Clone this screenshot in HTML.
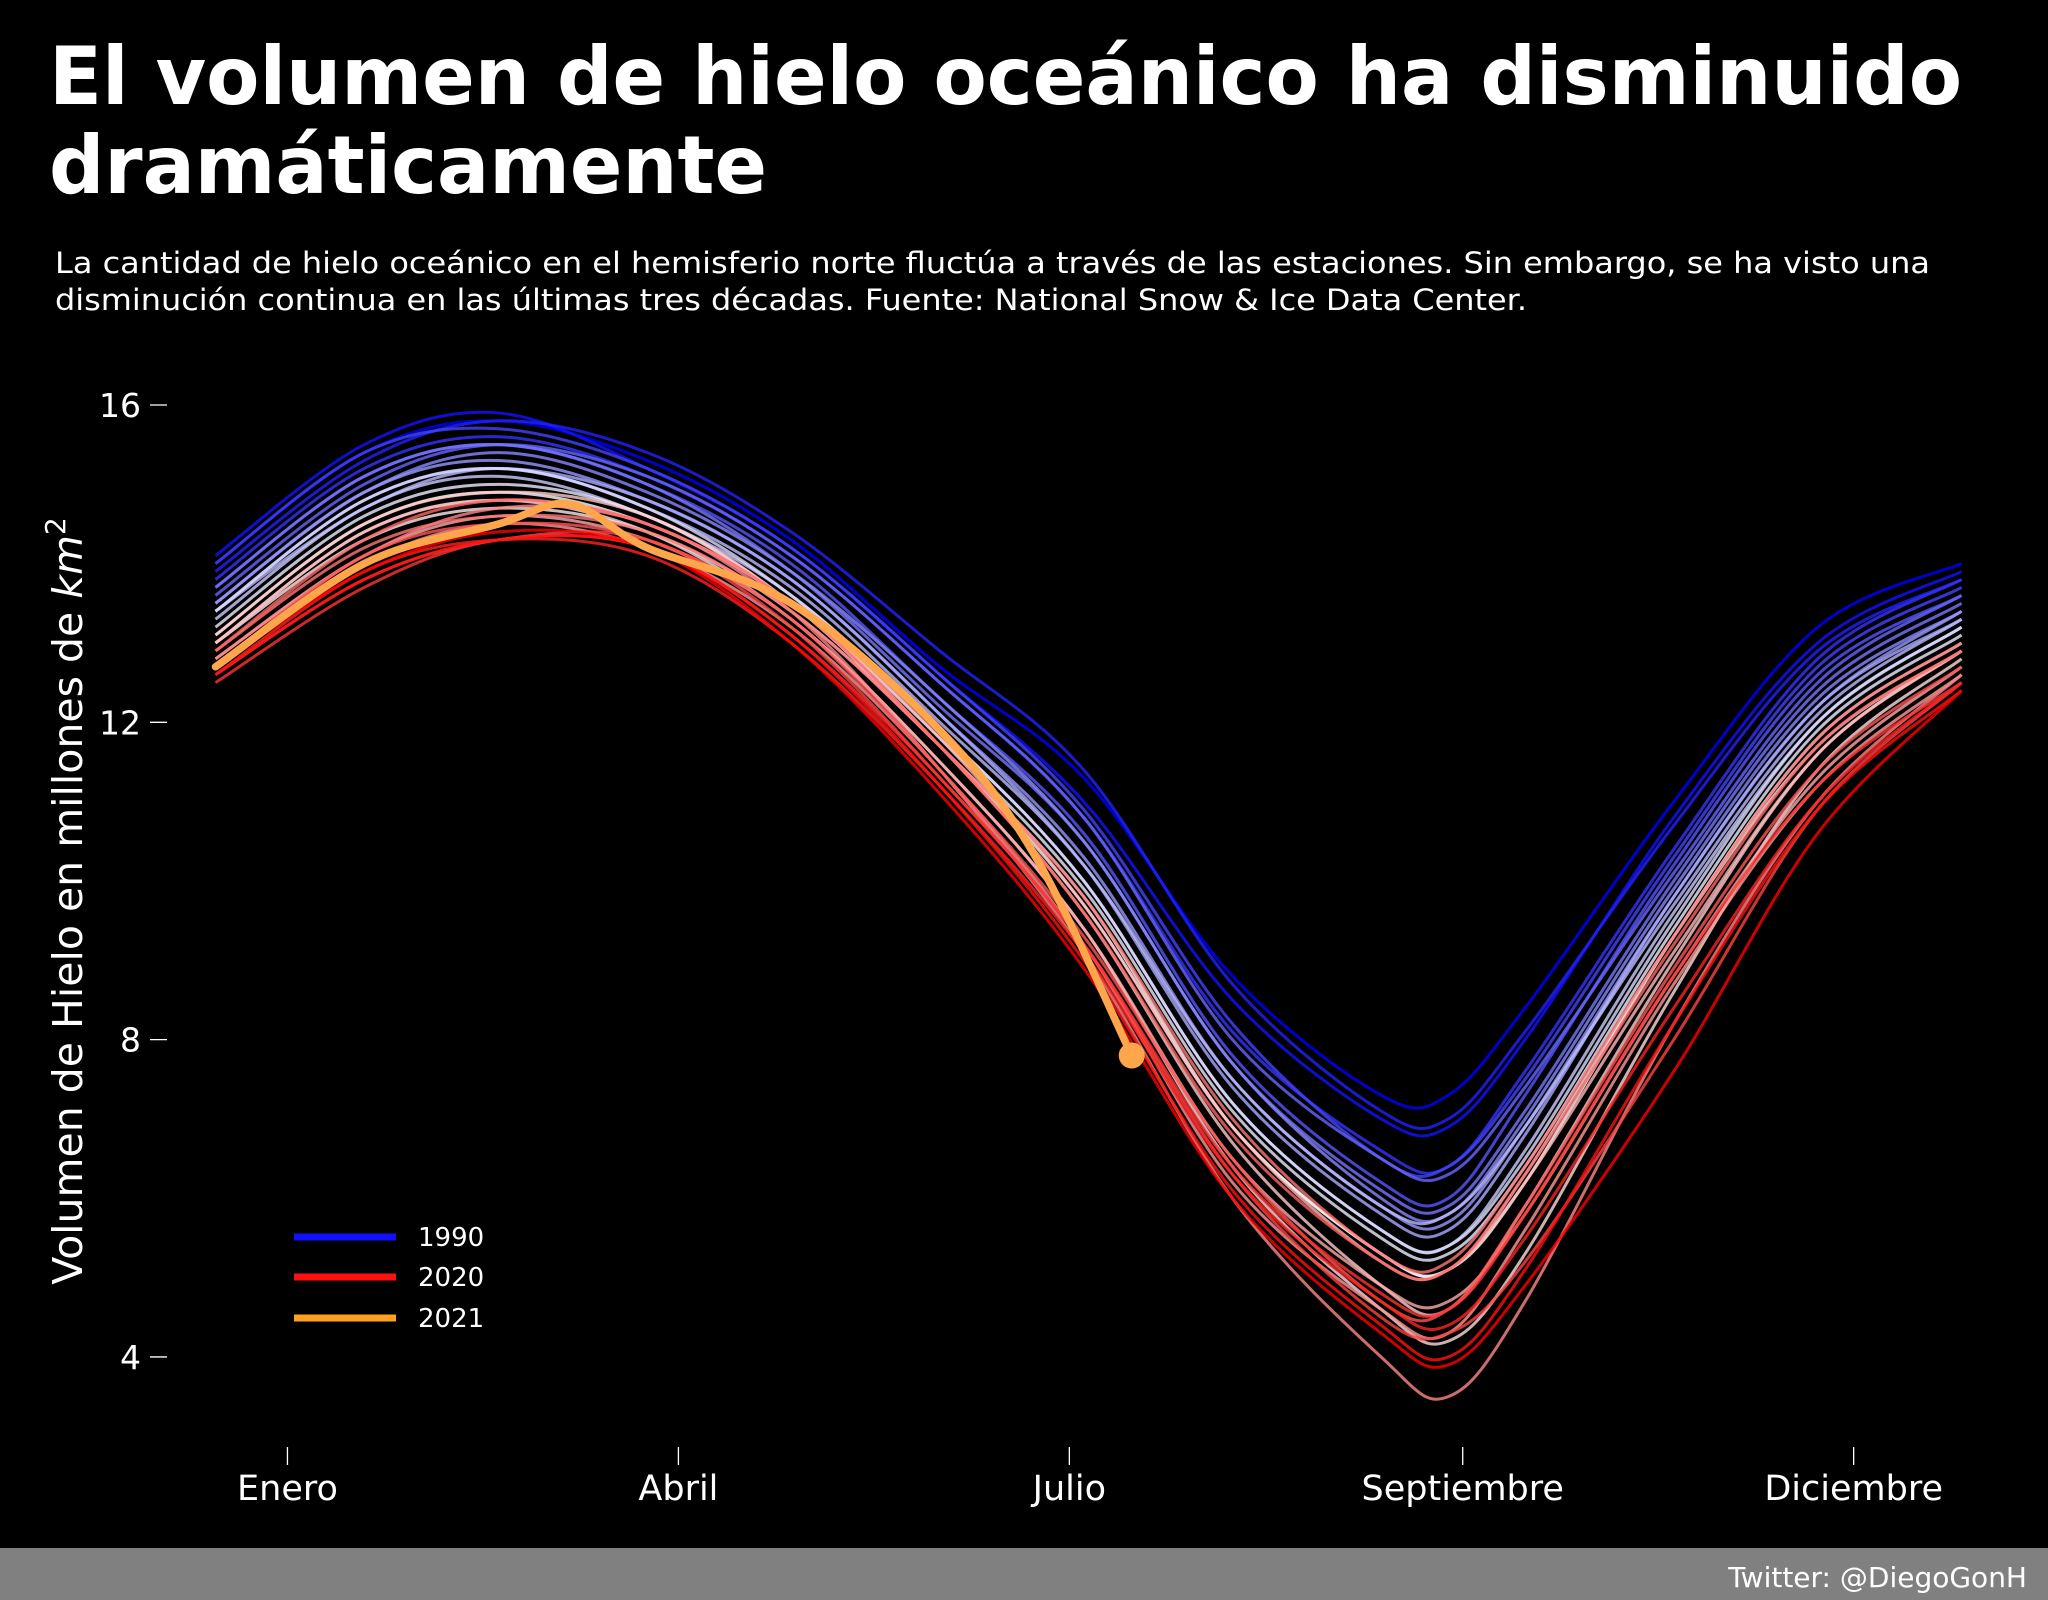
<!DOCTYPE html>
<html><head><meta charset="utf-8"><style>
html,body{margin:0;padding:0;background:#000;}
svg{display:block;font-family:"DejaVu Sans","Liberation Sans",sans-serif;}
</style></head><body>
<svg id="chart" width="2048" height="1600" viewBox="0 0 2048 1600">
<rect x="0" y="0" width="2048" height="1600" fill="#000"/>
<text x="49" y="104" fill="#fff" font-weight="bold" font-size="80" textLength="1913" lengthAdjust="spacingAndGlyphs">El volumen de hielo oceánico ha disminuido</text>
<text x="49" y="193" fill="#fff" font-weight="bold" font-size="80" textLength="718" lengthAdjust="spacingAndGlyphs">dramáticamente</text>
<text x="55" y="273" fill="#fff" font-size="29" textLength="1875" lengthAdjust="spacingAndGlyphs">La cantidad de hielo oceánico en el hemisferio norte fluctúa a través de las estaciones. Sin embargo, se ha visto una</text>
<text x="55" y="310" fill="#fff" font-size="29" textLength="1472" lengthAdjust="spacingAndGlyphs">disminución continua en las últimas tres décadas. Fuente: National Snow &amp; Ice Data Center.</text>
<text transform="translate(82,901) rotate(-90)" text-anchor="middle" fill="#fff" font-size="41">Volumen de Hielo en millones de <tspan font-style="italic">km</tspan><tspan font-size="28" dy="-17">2</tspan></text>
<g id="axes"></g>
<g id="lines"></g>
<g id="legend"></g>
<rect x="0" y="1548" width="2048" height="52" fill="#808080"/>
<text x="2027" y="1587" text-anchor="end" fill="#fff" font-size="28">Twitter: @DiegoGonH</text>
</svg>
<script>
const days = [1,32,60,91,121,152,182,213,244,258,274,305,335,365];
const years = [1990,1991,1992,1993,1994,1995,1996,1997,1998,1999,2000,2001,2002,2003,2004,2005,2006,2007,2008,2009,2010,2011,2012,2013,2014,2015,2016,2017,2018,2019,2020];
const values = [
[14.0,15.4,15.8,15.3,14.3,12.7,11.3,8.8,7.3,7.3,8.4,11.0,13.2,14.0],
[14.1,15.5,15.9,15.2,14.2,12.6,11.0,8.5,7.0,6.9,8.0,10.8,13.0,13.9],
[13.9,15.3,15.8,15.4,14.4,12.9,11.4,8.7,7.1,7.0,8.1,10.7,12.9,13.8],
[13.8,15.2,15.6,15.1,14.1,12.5,10.8,8.1,6.6,6.4,7.6,10.4,12.8,13.8],
[14.0,15.4,15.7,15.2,14.2,12.6,10.9,8.2,6.5,6.4,7.5,10.3,12.7,13.7],
[13.7,15.1,15.5,15.0,14.0,12.3,10.6,7.8,6.2,6.0,7.3,10.2,12.6,13.6],
[13.6,15.0,15.5,15.1,14.1,12.5,10.8,8.0,6.5,6.3,7.4,10.1,12.5,13.6],
[13.7,15.1,15.5,15.0,13.9,12.2,10.5,7.7,6.1,5.9,7.1,10.0,12.4,13.5],
[13.5,14.9,15.4,14.9,13.9,12.3,10.5,7.7,6.0,5.8,7.0,9.9,12.3,13.4],
[13.5,14.9,15.3,14.8,13.8,12.1,10.3,7.5,5.9,5.7,6.9,9.8,12.2,13.4],
[13.4,14.8,15.2,14.8,13.8,12.1,10.2,7.4,5.8,5.6,6.8,9.8,12.2,13.3],
[13.4,14.7,15.2,14.7,13.7,12.0,10.2,7.5,5.9,5.8,6.9,9.7,12.1,13.3],
[13.3,14.7,15.1,14.6,13.6,11.9,10.0,7.2,5.6,5.4,6.6,9.6,12.0,13.2],
[13.4,14.8,15.2,14.7,13.6,11.9,10.0,7.2,5.6,5.4,6.5,9.5,12.0,13.2],
[13.2,14.6,15.0,14.6,13.5,11.8,9.9,7.1,5.5,5.3,6.4,9.4,11.9,13.1],
[13.1,14.5,14.9,14.5,13.5,11.7,9.8,6.9,5.3,5.1,6.2,9.3,11.8,13.0],
[13.0,14.3,14.7,14.4,13.4,11.7,9.7,6.9,5.3,5.1,6.3,9.3,11.7,12.9],
[13.0,14.4,14.8,14.4,13.3,11.5,9.4,6.4,4.6,4.2,5.3,8.6,11.4,12.8],
[13.1,14.5,14.9,14.6,13.5,11.7,9.6,6.7,4.9,4.6,5.9,9.0,11.6,12.9],
[13.0,14.4,14.8,14.5,13.5,11.8,9.7,6.9,5.2,5.1,6.2,9.1,11.6,12.9],
[12.8,14.1,14.6,14.3,13.3,11.5,9.4,6.5,4.9,4.7,5.8,8.8,11.3,12.7],
[12.7,14.0,14.5,14.2,13.2,11.4,9.2,6.2,4.6,4.3,5.6,8.7,11.2,12.6],
[12.8,14.1,14.7,14.5,13.4,11.4,9.1,6.0,4.0,3.5,4.7,8.2,11.0,12.6],
[12.9,14.2,14.6,14.4,13.4,11.7,9.8,7.0,5.3,5.2,6.4,9.3,11.8,13.0],
[12.9,14.3,14.8,14.5,13.5,11.7,9.6,6.8,5.2,5.1,6.3,9.2,11.7,12.9],
[12.7,14.1,14.5,14.3,13.3,11.4,9.3,6.5,4.7,4.6,5.9,8.9,11.4,12.7],
[12.6,13.8,14.3,14.3,13.2,11.3,9.2,6.3,4.5,4.3,5.2,8.0,10.9,12.5],
[12.5,13.7,14.3,14.2,13.1,11.3,9.2,6.4,4.8,4.6,5.8,8.8,11.2,12.5],
[12.6,13.9,14.3,14.1,13.0,11.2,9.1,6.3,4.7,4.4,5.5,8.4,11.0,12.5],
[12.6,13.8,14.3,14.2,13.1,11.2,9.0,6.1,4.4,4.0,5.1,8.2,10.9,12.4],
[12.7,13.9,14.4,14.2,13.0,11.1,8.9,6.0,4.3,3.9,4.9,7.6,10.6,12.4]
];
const days2021 = [1,32,60,75,91,121,152,172,192];
const values2021 = [12.7,14.0,14.5,14.75,14.2,13.5,11.9,10.3,7.8];
const yTicks = [4,8,12,16];
const xTickDays = [16,97.5,179,261,342.5];
const xTickLabels = ["Enero","Abril","Julio","Septiembre","Diciembre"];
const legendLabels = ["1990","2020","2021"];

const NS = "http://www.w3.org/2000/svg";
const x = d => 215.5 + (d - 1) * (1961.6 - 215.5) / 364;
const y = v => 405 + (16 - v) * 79.33;
function mk(tag, attrs, parent){const e=document.createElementNS(NS,tag);for(const k in attrs)e.setAttribute(k,attrs[k]);parent.appendChild(e);return e;}
function col(t){let r,g,b;if(t<0.5){const s=t/0.5;r=s;g=s;b=1;}else{const s=(t-0.5)/0.5;r=1;g=1-s;b=1-s;}return `rgb(${Math.round(r*255)},${Math.round(g*255)},${Math.round(b*255)})`;}
function pathFor(ds, vs){
  const p=ds.map((d,i)=>[x(d),y(vs[i])]);
  let s=`M${p[0][0]},${p[0][1]}`;
  for(let i=0;i<p.length-1;i++){
    const p0=p[Math.max(0,i-1)],p1=p[i],p2=p[i+1],p3=p[Math.min(p.length-1,i+2)];
    const c1=[p1[0]+(p2[0]-p0[0])/6,p1[1]+(p2[1]-p0[1])/6];
    const c2=[p2[0]-(p3[0]-p1[0])/6,p2[1]-(p3[1]-p1[1])/6];
    s+=` C${c1[0]},${c1[1]} ${c2[0]},${c2[1]} ${p2[0]},${p2[1]}`;
  }
  return s;
}
const axes=document.getElementById('axes');
yTicks.forEach(v=>{
  const l=mk('line',{x1:150,x2:167,y1:y(v),y2:y(v),stroke:'#fff','stroke-width':1.3},axes);
  
  
  const t=mk('text',{x:141,y:y(v)+12,'text-anchor':'end',fill:'#fff','font-size':33},axes);
  t.textContent=v;
  
  
});
xTickDays.forEach((d,i)=>{
  const l=mk('line',{x1:x(d),x2:x(d),y1:1447,y2:1465,stroke:'#fff','stroke-width':1.3},axes);
  
  
  const t=mk('text',{x:x(d),y:1500,'text-anchor':'middle',fill:'#fff','font-size':35},axes);
  t.textContent=xTickLabels[i];
  
  
});
const lg=document.getElementById('lines');
years.forEach((yr,i)=>{
  const p=mk('path',{d:pathFor(days,values[i]),fill:'none',stroke:col((yr-1990)/30),'stroke-width':3,'stroke-opacity':0.8},lg);
  
  
});
const p21=mk('path',{d:pathFor(days2021,values2021),fill:'none',stroke:'#ffa64d','stroke-width':7.5,'stroke-linecap':'round'},lg);


const n=days2021.length-1;
const dot=mk('circle',{cx:x(days2021[n]),cy:y(values2021[n]),r:13,fill:'#ffa64d'},lg);


const leg=document.getElementById('legend');
const legCols=['#1010ff','#ff1010','#ffa020'];
const legY=[1237,1277,1318];
legendLabels.forEach((lab,i)=>{
  const l=mk('line',{x1:294,x2:396,y1:legY[i],y2:legY[i],stroke:legCols[i],'stroke-width':7},leg);
  
  
  const t=mk('text',{x:418,y:legY[i]+9,fill:'#fff','font-size':26},leg);
  t.textContent=lab;
  
  
});
</script>
</body></html>
